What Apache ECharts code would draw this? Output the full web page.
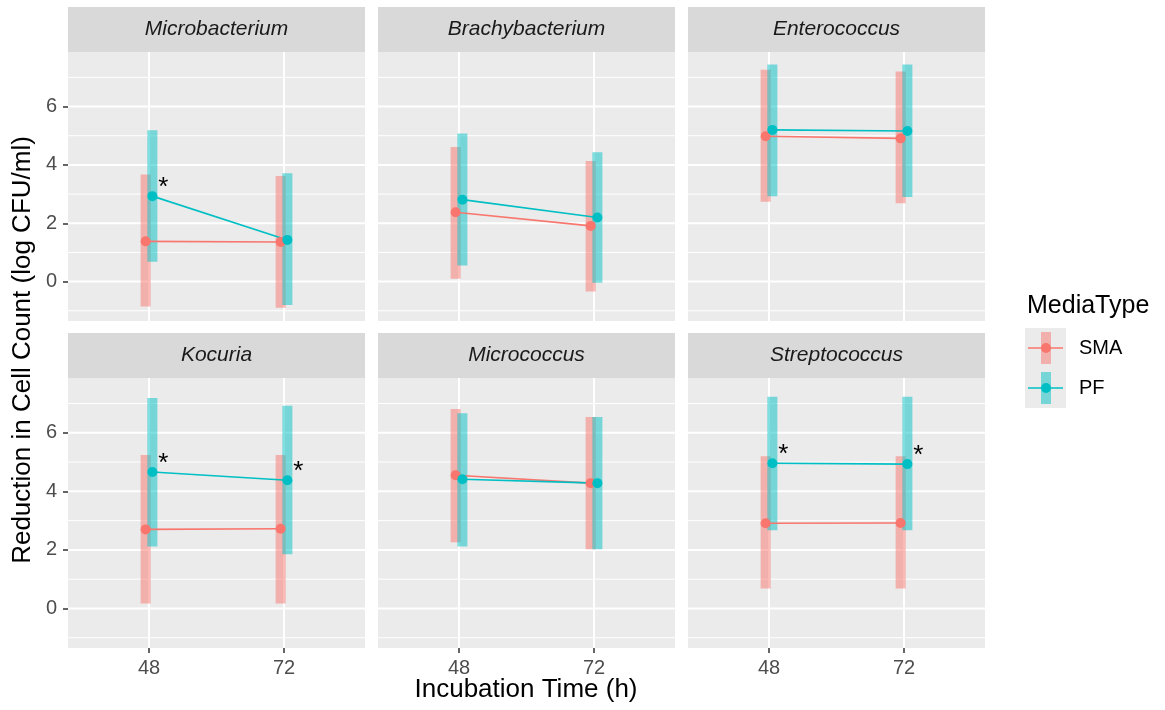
<!DOCTYPE html>
<html>
<head>
<meta charset="utf-8">
<script src="https://cdn.jsdelivr.net/npm/echarts@6.0.0/dist/echarts.min.js"></script>
<style>
    html, body {margin:0; padding:0; background:#fff;}
    #chart {width:1165px; height:710px;}
</style>
</head>
<body>
<div id="chart"></div>
<script>
    // data (mean and range per genus, [48h, 72h])
    var genera = ['Microbacterium', 'Brachybacterium', 'Enterococcus', 'Kocuria', 'Micrococcus', 'Streptococcus'];
    var times = ['48', '72'];
    var mediaTypes = ['SMA', 'PF'];

    var smaMean = [[1.38, 1.36], [2.38, 1.91], [4.98, 4.91], [2.70, 2.72], [4.55, 4.28], [2.91, 2.92]];
    var smaLow  = [[-0.85, -0.90], [0.10, -0.34], [2.74, 2.69], [0.17, 0.17], [2.26, 2.02], [0.68, 0.68]];
    var smaHigh = [[3.67, 3.62], [4.61, 4.13], [7.26, 7.20], [5.24, 5.24], [6.81, 6.54], [5.20, 5.20]];

    var pfMean = [[2.93, 1.43], [2.81, 2.20], [5.20, 5.16], [4.66, 4.38], [4.41, 4.28], [4.96, 4.93]];
    var pfLow  = [[0.68, -0.80], [0.55, -0.04], [2.93, 2.90], [2.12, 1.85], [2.12, 2.02], [2.67, 2.67]];
    var pfHigh = [[5.19, 3.71], [5.08, 4.43], [7.44, 7.44], [7.19, 6.92], [6.67, 6.54], [7.23, 7.23]];

    // significant PF points (asterisk)
    var pfSig = [[1, 0], [0, 0], [0, 0], [1, 1], [0, 0], [1, 1]];

    var yTicks = [0, 2, 4, 6];
    var yMinor = [-1, 1, 3, 5, 7];

    var colors = {SMA: '#F8766D', PF: '#00BFC4'};
    var FONT = '"Liberation Sans", Arial, sans-serif';
    var DODGE = 0.025;

    var colLeft = [68, 378, 688];
    var panelW = 297;
    var rowTop = [52, 378];
    var rowH = [269, 270];
    var stripH = 45;

    var myChart = echarts.init(document.getElementById('chart'));

    var grids = [], xAxes = [], yAxes = [], series = [], graphics = [];

    function renderGrid(params, api) {
        var cs = params.coordSys;
        var kind = api.value(0), v = api.value(1), minor = api.value(2);
        var shape;
        if (kind === 0) {
            var py = api.coord([1, v])[1];
            shape = {x1: cs.x, y1: py, x2: cs.x + cs.width, y2: py};
        } else {
            var px = api.coord([v, 0])[0];
            shape = {x1: px, y1: cs.y, x2: px, y2: cs.y + cs.height};
        }
        return {type: 'line', shape: shape, style: {stroke: '#ffffff', lineWidth: minor ? 1 : 2}};
    }

    function renderRange(color) {
        return function (params, api) {
            var lo = api.coord([api.value(0), api.value(1)]);
            var hi = api.coord([api.value(0), api.value(2)]);
            return {
                type: 'rect',
                shape: {x: lo[0] - 5, y: hi[1], width: 10, height: lo[1] - hi[1]},
                style: {fill: color, opacity: 0.5}
            };
        };
    }

    function renderStar(params, api) {
        var p = api.coord([api.value(0), api.value(1)]);
        return {
            type: 'text',
            x: p[0] + 11, y: p[1] - 8,
            style: {text: '*', fill: '#000', font: '26px ' + FONT, textAlign: 'center', textVerticalAlign: 'middle'}
        };
    }

    genera.forEach(function (name, i) {
        var r = Math.floor(i / 3), c = i % 3;
        grids.push({
            left: colLeft[c], top: rowTop[r], width: panelW, height: rowH[r],
            show: true, backgroundColor: '#ebebeb', borderWidth: 0,
            outerBoundsMode: 'none', containLabel: false
        });
        xAxes.push({
            type: 'value', gridIndex: i, min: 0.4, max: 2.6, position: 'bottom',
            axisLine: {show: false, onZero: false},
            splitLine: {show: false},
            axisTick: {show: r === 1, length: 5, lineStyle: {color: '#333333', width: 1.5}, customValues: [1, 2]},
            axisLabel: {
                show: r === 1, customValues: [1, 2], margin: 10,
                color: '#4d4d4d', fontSize: 20, fontFamily: FONT,
                formatter: function (v) { return times[Math.round(v) - 1]; }
            }
        });
        yAxes.push({
            type: 'value', gridIndex: i, min: -1.35, max: 7.87, position: 'left',
            axisLine: {show: false, onZero: false},
            splitLine: {show: false},
            axisTick: {show: c === 0, length: 5, lineStyle: {color: '#333333', width: 1.5}, customValues: yTicks},
            axisLabel: {
                show: c === 0, customValues: yTicks, margin: 11,
                color: '#4d4d4d', fontSize: 20, fontFamily: FONT
            }
        });

        // grid lines
        var gl = [];
        yMinor.forEach(function (v) { gl.push([0, v, 1]); });
        yTicks.forEach(function (v) { gl.push([0, v, 0]); });
        [1, 2].forEach(function (v) { gl.push([1, v, 0]); });
        series.push({
            type: 'custom', xAxisIndex: i, yAxisIndex: i, z: 1, silent: true,
            renderItem: renderGrid, data: gl
        });

        // ranges
        var smaR = [], pfR = [];
        for (var k = 0; k < 2; k++) {
            smaR.push([k + 1 - DODGE, smaLow[i][k], smaHigh[i][k]]);
            pfR.push([k + 1 + DODGE, pfLow[i][k], pfHigh[i][k]]);
        }
        series.push({type: 'custom', xAxisIndex: i, yAxisIndex: i, z: 2, silent: true,
            renderItem: renderRange(colors.SMA), data: smaR});
        series.push({type: 'custom', xAxisIndex: i, yAxisIndex: i, z: 2, silent: true,
            renderItem: renderRange(colors.PF), data: pfR});

        // mean lines + points
        [['SMA', smaMean, -DODGE], ['PF', pfMean, DODGE]].forEach(function (s) {
            series.push({
                type: 'line', name: s[0], xAxisIndex: i, yAxisIndex: i, z: 3, silent: true,
                data: [[1 + s[2], s[1][i][0]], [2 + s[2], s[1][i][1]]],
                symbol: 'circle', symbolSize: 10, showSymbol: true,
                lineStyle: {color: colors[s[0]], width: 1.6},
                itemStyle: {color: colors[s[0]]}
            });
        });

        // asterisks
        var stars = [];
        for (var k2 = 0; k2 < 2; k2++) {
            if (pfSig[i][k2]) stars.push([k2 + 1 + DODGE, pfMean[i][k2]]);
        }
        series.push({type: 'custom', xAxisIndex: i, yAxisIndex: i, z: 4, silent: true,
            renderItem: renderStar, data: stars});

        // facet strip
        graphics.push({
            type: 'rect', left: colLeft[c], top: rowTop[r] - stripH,
            shape: {width: panelW, height: stripH}, style: {fill: '#d9d9d9'}
        });
        graphics.push({
            type: 'text', x: colLeft[c] + panelW / 2, y: rowTop[r] - stripH / 2,
            style: {text: name, font: 'italic 21px ' + FONT, fill: '#1a1a1a', textAlign: 'center', textVerticalAlign: 'middle'}
        });
    });

    // axis titles
    graphics.push({
        type: 'text', x: 526, y: 690,
        style: {text: 'Incubation Time (h)', font: '26px ' + FONT, fill: '#000', textAlign: 'center', textVerticalAlign: 'middle'}
    });
    graphics.push({
        type: 'text', x: 23, y: 350, rotation: Math.PI / 2,
        style: {text: 'Reduction in Cell Count (log CFU/ml)', font: '26px ' + FONT, fill: '#000', textAlign: 'center', textVerticalAlign: 'middle'}
    });

    // legend
    graphics.push({
        type: 'text', x: 1027, y: 306,
        style: {text: 'MediaType', font: '25px ' + FONT, fill: '#000', textAlign: 'left', textVerticalAlign: 'middle'}
    });
    mediaTypes.forEach(function (m, j) {
        var cy = 348 + j * 40;
        var col = colors[m];
        graphics.push({type: 'rect', shape: {x: 1025, y: cy - 20, width: 41, height: 40}, style: {fill: '#ebebeb'}});
        graphics.push({type: 'rect', shape: {x: 1041, y: cy - 16, width: 10, height: 32}, style: {fill: col, opacity: 0.5}});
        graphics.push({type: 'line', shape: {x1: 1028, y1: cy, x2: 1063, y2: cy}, style: {stroke: col, lineWidth: 1.6}});
        graphics.push({type: 'circle', shape: {cx: 1046, cy: cy, r: 5}, style: {fill: col}});
        graphics.push({
            type: 'text', x: 1079, y: cy,
            style: {text: m, font: '20px ' + FONT, fill: '#000', textAlign: 'left', textVerticalAlign: 'middle'}
        });
    });

    var myoption = {
        animation: false,
        backgroundColor: '#ffffff',
        grid: grids,
        xAxis: xAxes,
        yAxis: yAxes,
        series: series,
        graphic: {elements: graphics}
    };
    myChart.setOption(myoption);
</script>
</body>
</html>
